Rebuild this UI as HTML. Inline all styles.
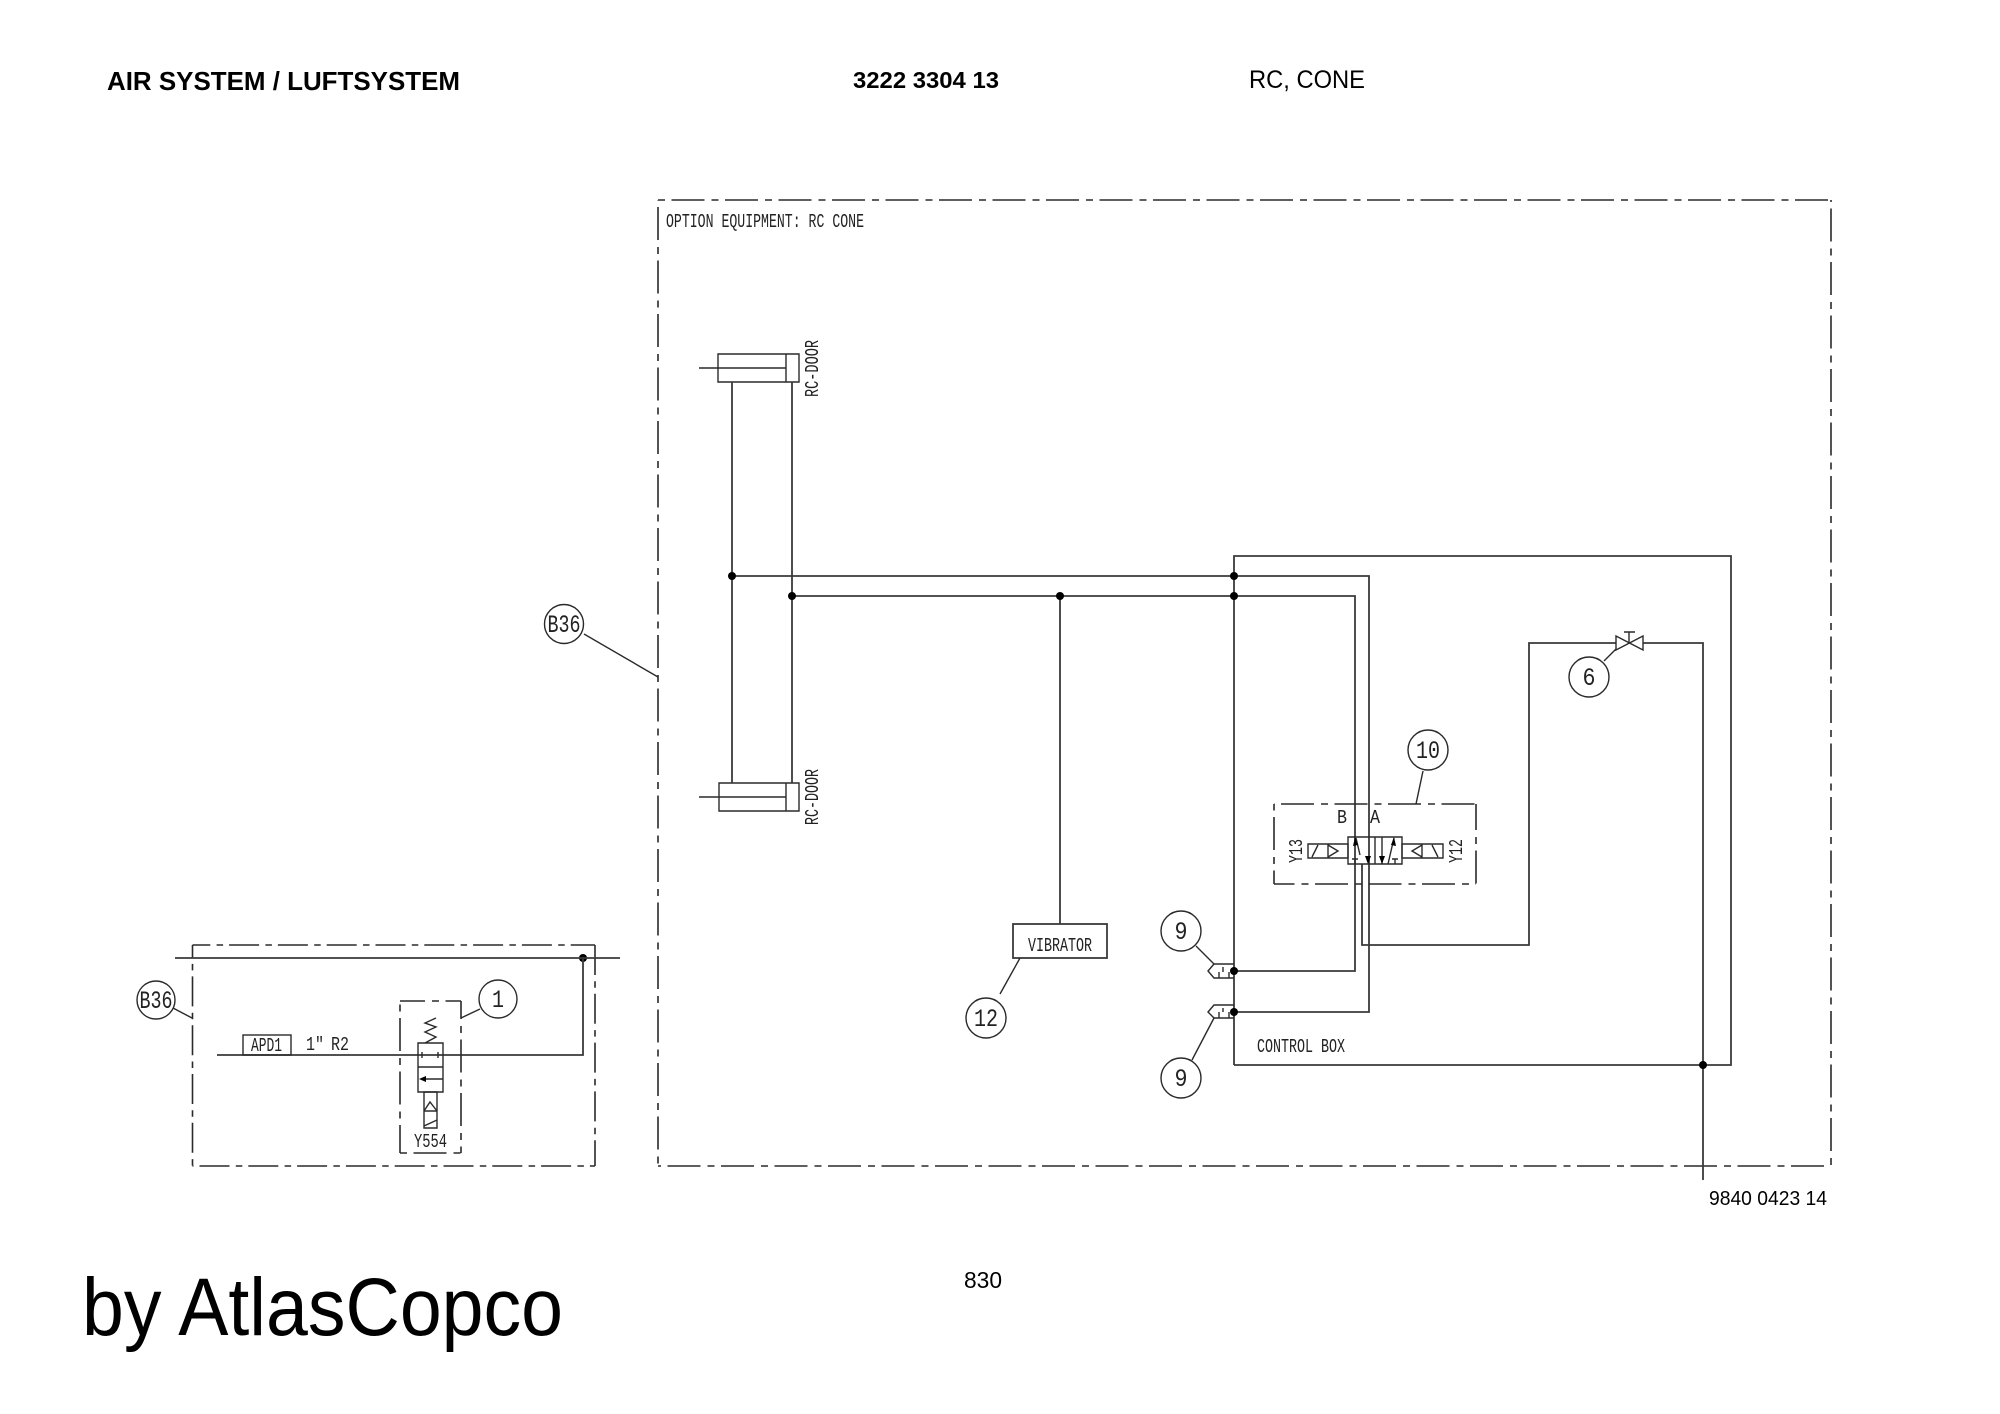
<!DOCTYPE html>
<html><head><meta charset="utf-8"><style>
html,body{margin:0;padding:0;background:#fff}
svg{display:block}
.l{fill:none;stroke:#2a2a2a;stroke-width:1.4}
.h{fill:none;stroke:#3a3a3a;stroke-width:1.8}
.d{fill:none;stroke:#2a2a2a;stroke-width:1.6;stroke-dasharray:33 7 7 6.5}
.e{fill:none;stroke:#2a2a2a;stroke-width:1.6;stroke-dasharray:30 6.3 6.5 6}
.c{font-family:"Liberation Mono",monospace;font-size:19px;fill:#222}
.t{font-family:"Liberation Sans",sans-serif;fill:#000}
.n{font-family:"Liberation Mono",monospace;font-size:25px;fill:#222;text-anchor:middle}
</style></head><body>
<svg width="2000" height="1414" viewBox="0 0 2000 1414" xmlns="http://www.w3.org/2000/svg">
<rect width="2000" height="1414" fill="#fff"/>
<text class="t" x="107" y="90" font-size="26" font-weight="bold" textLength="353" lengthAdjust="spacingAndGlyphs">AIR SYSTEM / LUFTSYSTEM</text>
<text class="t" x="853" y="88" font-size="23" font-weight="bold" textLength="146" lengthAdjust="spacingAndGlyphs">3222 3304 13</text>
<text class="t" x="1249" y="88" font-size="25" textLength="116" lengthAdjust="spacingAndGlyphs">RC, CONE</text>
<text class="t" x="1709" y="1205" font-size="20" textLength="118" lengthAdjust="spacingAndGlyphs">9840 0423 14</text>
<text class="t" x="964" y="1288" font-size="23" textLength="38" lengthAdjust="spacingAndGlyphs">830</text>
<text class="t" x="82" y="1335" font-size="82" textLength="481" lengthAdjust="spacingAndGlyphs">by AtlasCopco</text>

<!-- main frame -->
<path class="d" d="M658 200H1831" stroke-dashoffset="40"/>
<path class="d" d="M658 200V1166" stroke-dashoffset="46.5"/>
<path class="d" d="M1831 200V1166" stroke-dashoffset="45"/>
<path class="d" d="M658 1166H1831" stroke-dashoffset="44"/>
<text class="c" x="666" y="227" textLength="198" lengthAdjust="spacingAndGlyphs">OPTION EQUIPMENT: RC CONE</text>

<!-- cylinders -->
<path class="l" d="M718 354H799V382H718ZM786 354V382M699 368H786"/>
<path class="l" d="M719 783H799V811H719ZM786 783V811M699 797H786"/>
<path class="h" d="M732 382V783M792 382V783"/>
<text class="c" transform="translate(818 397) rotate(-90)" textLength="57" lengthAdjust="spacingAndGlyphs">RC-DOOR</text>
<text class="c" transform="translate(818 825) rotate(-90)" textLength="56" lengthAdjust="spacingAndGlyphs">RC-DOOR</text>

<!-- main piping -->
<path class="h" d="M732 576H1369V1012H1234"/>
<path class="h" d="M792 596H1355V971H1234"/>
<path class="h" d="M1234 1065V556H1731V1065H1234"/>
<path class="h" d="M1060 596V924"/>
<path class="h" d="M1362 864V945H1529V643H1616M1643 643H1703V1180"/>
<g fill="#000">
<circle cx="732" cy="576" r="4"/><circle cx="792" cy="596" r="4"/><circle cx="1060" cy="596" r="4"/>
<circle cx="1234" cy="576" r="4"/><circle cx="1234" cy="596" r="4"/><circle cx="1234" cy="971" r="4"/>
<circle cx="1234" cy="1012" r="4"/><circle cx="1703" cy="1065" r="4"/><circle cx="583" cy="958" r="4"/>
</g>
<text class="c" x="1257" y="1052" textLength="88" lengthAdjust="spacingAndGlyphs">CONTROL BOX</text>

<!-- vibrator -->
<rect class="h" x="1013" y="924" width="94" height="34" fill="#fff"/>
<text class="c" x="1028" y="951" textLength="64" lengthAdjust="spacingAndGlyphs">VIBRATOR</text>
<path class="l" d="M1020 958L1000 994"/>
<circle class="l" cx="986" cy="1018" r="20"/><text class="n" x="986" y="1026" textLength="24" lengthAdjust="spacingAndGlyphs">12</text>

<!-- check valves -->
<path class="l" d="M1234 964H1214L1208 971L1214 978H1234M1219 972V978M1223 967V972M1229 972V978"/>
<path class="l" d="M1234 1005H1214L1208 1012L1214 1018H1234M1219 1012V1018M1223 1008V1012M1229 1012V1018"/>
<circle class="l" cx="1181" cy="931" r="20"/><text class="n" x="1181" y="939" textLength="13" lengthAdjust="spacingAndGlyphs">9</text>
<circle class="l" cx="1181" cy="1078" r="20"/><text class="n" x="1181" y="1086" textLength="13" lengthAdjust="spacingAndGlyphs">9</text>
<path class="l" d="M1196 946L1214 964M1192 1060L1214 1018"/>

<!-- needle valve 6 -->
<path class="l" d="M1616 636V650L1643 636V650ZM1629 643V632M1624 632H1635M1604 661L1616 649"/>
<circle class="l" cx="1589" cy="677" r="20"/><text class="n" x="1589" y="685" textLength="13" lengthAdjust="spacingAndGlyphs">6</text>

<!-- directional valve 10 -->
<path class="d" d="M1274 804H1476" stroke-dashoffset="46.5"/>
<path class="d" d="M1476 804V884" stroke-dashoffset="7"/>
<path class="d" d="M1274 884H1476" stroke-dashoffset="12.5"/>
<path class="d" d="M1274 804V884" stroke-dashoffset="40.5"/>
<circle class="l" cx="1428" cy="750" r="20"/><text class="n" x="1428" y="758" textLength="24" lengthAdjust="spacingAndGlyphs">10</text>
<path class="l" d="M1423 771L1416 804"/>
<text class="c" x="1337" y="823" textLength="10" lengthAdjust="spacingAndGlyphs">B</text>
<text class="c" x="1370" y="823" textLength="10" lengthAdjust="spacingAndGlyphs">A</text>
<text class="c" transform="translate(1302 863) rotate(-90)" textLength="24" lengthAdjust="spacingAndGlyphs">Y13</text>
<text class="c" transform="translate(1462 863) rotate(-90)" textLength="24" lengthAdjust="spacingAndGlyphs">Y12</text>
<path class="l" d="M1348 837H1402V864H1348ZM1375 837V864"/>
<path class="l" d="M1308 844H1348V858H1308ZM1328 844V858M1328 845L1338 851L1328 857M1312 857L1318 845"/>
<path class="l" d="M1402 844H1443V858H1402ZM1422 844V858M1422 845L1412 851L1422 857M1432 845L1438 857"/>
<path class="l" d="M1360 855L1356 838M1352 859H1358M1355 859V864M1382 837V864M1388 864L1394 838M1392 859H1398M1395 859V864"/>
<g fill="#000"><path d="M1355 837L1358 845L1353 846ZM1368 864L1365 856H1371ZM1382 864L1379 856H1385ZM1394 837L1396 846L1391 845Z"/></g>

<!-- B36 main -->
<circle class="l" cx="564" cy="624" r="19.5"/><text class="n" x="564" y="632" textLength="33" lengthAdjust="spacingAndGlyphs">B36</text>
<path class="l" d="M584 634L658 677"/>

<!-- mini frame -->
<path class="e" d="M192.5 945H595" stroke-dashoffset="12.2"/>
<path class="e" d="M192.5 945V1166" stroke-dashoffset="17.4"/>
<path class="e" d="M595 945V1166"/>
<path class="e" d="M192.5 1166H595" stroke-dashoffset="41.8"/>
<path class="h" d="M175 958H620M583 958V1055H217"/>
<rect class="l" x="243" y="1035" width="48" height="20" fill="#fff"/>
<text class="c" x="251" y="1051" textLength="31" lengthAdjust="spacingAndGlyphs">APD1</text>
<text class="c" x="306" y="1050" textLength="9" lengthAdjust="spacingAndGlyphs">1</text>
<text class="c" x="315" y="1050" textLength="9" lengthAdjust="spacingAndGlyphs">"</text>
<text class="c" x="331" y="1050" textLength="18" lengthAdjust="spacingAndGlyphs">R2</text>
<circle class="l" cx="156" cy="1000" r="19"/><text class="n" x="156" y="1008" textLength="33" lengthAdjust="spacingAndGlyphs">B36</text>
<path class="l" d="M173 1008L192 1018"/>

<!-- Y554 -->
<path class="d" d="M400 1001H461" stroke-dashoffset="8"/>
<path class="d" d="M461 1001V1153" stroke-dashoffset="15"/>
<path class="d" d="M400 1153H461" stroke-dashoffset="40"/>
<path class="d" d="M400 1001V1153" stroke-dashoffset="36.5"/>
<circle class="l" cx="498" cy="999" r="19"/><text class="n" x="498" y="1007" textLength="12" lengthAdjust="spacingAndGlyphs">1</text>
<path class="l" d="M480 1009L461 1018"/>
<path class="l" d="M425 1043L436 1037L425 1032L436 1027L425 1023L436 1018M418 1043H443V1092H418ZM418 1067H443M422 1052V1058M438 1052V1058M424 1079H443"/>
<path d="M419 1079L426 1076V1082Z" fill="#000"/>
<path class="l" d="M424 1092H437V1128H424ZM424 1111H437M424 1111L430 1102L437 1111M424 1126L437 1120"/>
<text class="c" x="414" y="1147" textLength="33" lengthAdjust="spacingAndGlyphs">Y554</text>
</svg>
</body></html>
